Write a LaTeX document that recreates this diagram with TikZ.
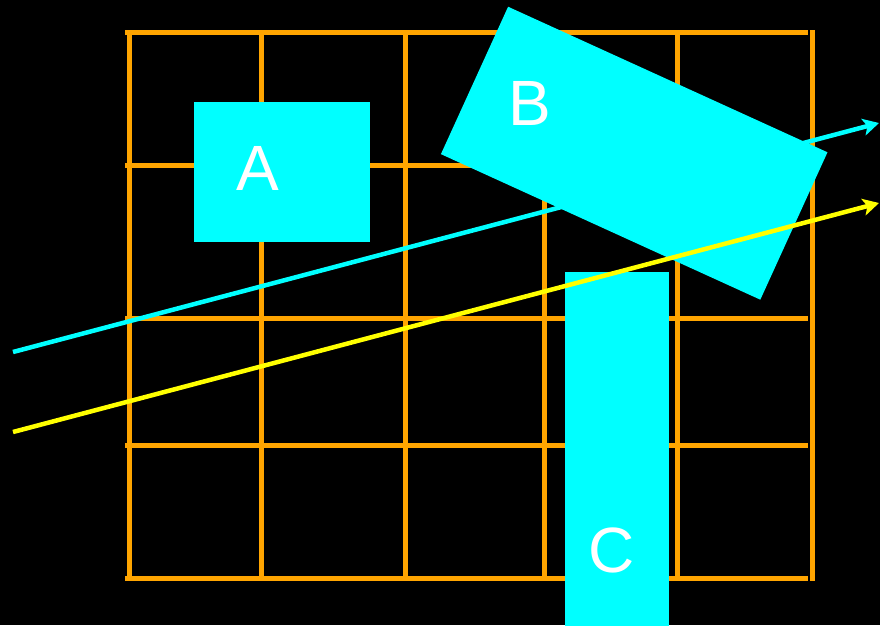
\documentclass[tikz,border=0pt]{standalone}
\usepackage{fontspec}
\setmainfont{Liberation Sans}
\usetikzlibrary{arrows.meta}
\definecolor{gridorange}{HTML}{FFA500}
\definecolor{boxcyan}{HTML}{00FFFF}
\definecolor{rayyellow}{HTML}{FFFF00}
\tikzset{
  gridline/.style={draw=gridorange, line width=5pt},
  block/.style={fill=boxcyan, draw=none, inner sep=0pt, outer sep=0pt},
  lbl/.style={text=white, font=\fontsize{64}{64}\selectfont, inner sep=0pt},
  ray/.style={line width=4.5pt, -{Stealth[length=16pt,width=17pt,inset=4pt]}}
}
\begin{document}
\begin{tikzpicture}[x=1pt,y=-1pt]
  \useasboundingbox (0,0) rectangle (880,625);
  \fill[black] (0,0) rectangle (880,625);
  % grid
  \foreach \y in {32,165,318,445,578} \draw[gridline] (125,\y) -- (808,\y);
  \foreach \x in {129,261,405,544,677} \draw[gridline] (\x,30) -- (\x,580);
  \draw[gridline] (812,30) -- (812,581);
  % box A
  \node[block, minimum width=176pt, minimum height=140pt] (A) at (282,172) {};
  \node[lbl] (Alabel) at (258,168) {A};
  % cyan ray (under B)
  \coordinate (c1) at (13,352);
  \coordinate (c2) at (879,123);
  \draw[ray, boxcyan] (c1) -- (c2);
  % box B
  \node[block, minimum width=351pt, minimum height=162pt, rotate=-24.5] (B) at (634.2,153.2) {};
  \node[lbl] (Blabel) at (530,103) {B};
  % box C
  \node[block, minimum width=104pt, minimum height=356pt] (C) at (617,450) {};
  \node[lbl] (Clabel) at (612,550) {C};
  % yellow ray (over all)
  \coordinate (y1) at (13,432);
  \coordinate (y2) at (879,203);
  \draw[ray, rayyellow] (y1) -- (y2);
\end{tikzpicture}
\end{document}
